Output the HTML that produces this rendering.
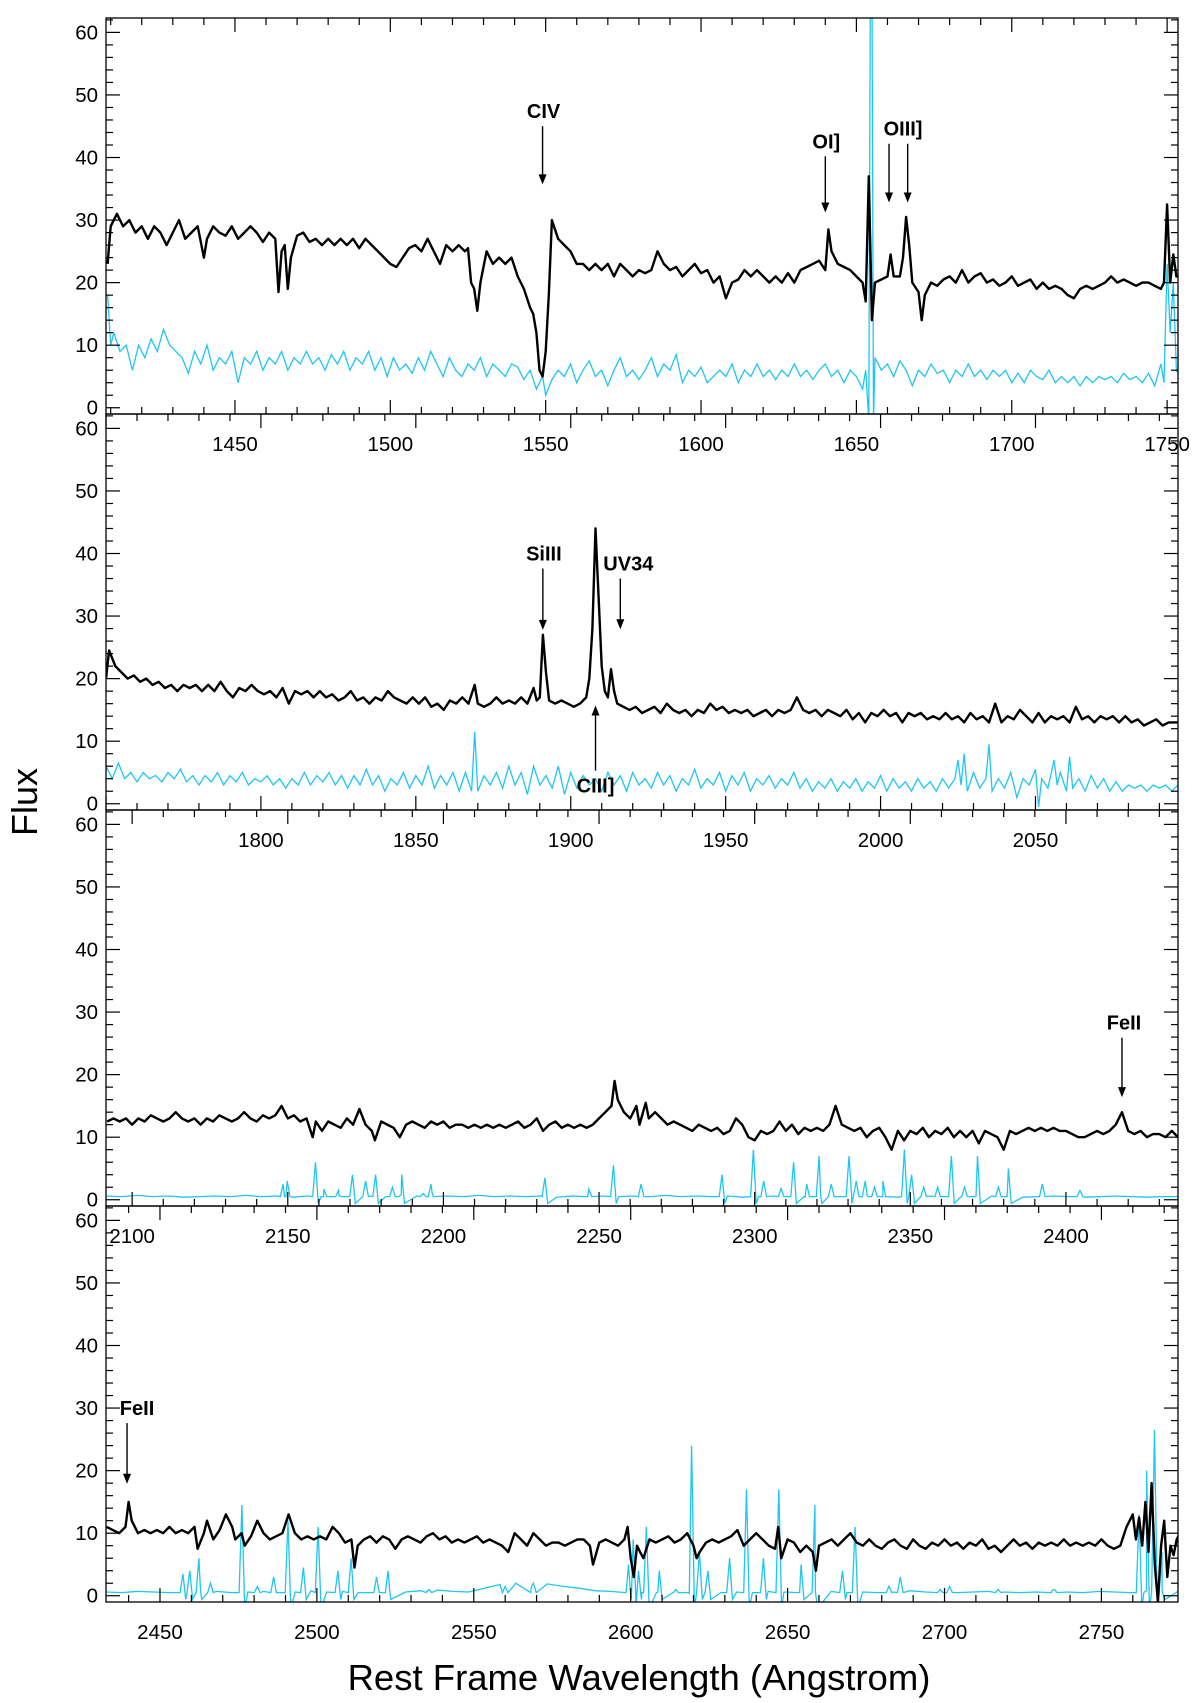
<!DOCTYPE html>
<html><head><meta charset="utf-8"><style>
html,body{margin:0;padding:0;background:#fff;}
svg{display:block;font-family:"Liberation Sans",sans-serif;}
</style></head><body>
<svg id="chart" width="1200" height="1703" viewBox="0 0 1200 1703" xmlns="http://www.w3.org/2000/svg">
<text x="0" y="0" transform="translate(37,802) rotate(-90)" text-anchor="middle" font-size="36">Flux</text>
<text x="639" y="1690" text-anchor="middle" font-size="36.5">Rest Frame Wavelength (Angstrom)</text>
</svg>
<script>
// ---------- data ----------
const panelRanges = [[1408.5,1753.5],[1750,2096],[2091.6,2436],[2432.8,2774.4]];
const yTicks = [0,10,20,30,40,50,60];
const xTicks1 = [1450,1500,1550,1600,1650,1700,1750];
const xTicks2 = [1800,1850,1900,1950,2000,2050];
const xTicks3 = [2100,2150,2200,2250,2300,2350,2400];
const xTicks4 = [2450,2500,2550,2600,2650,2700,2750];

const black1 = [1409,23,1410,29,1412,31,1414,29,1416,30,1418,28,1420,29,1422,27,1424,29,1426,28,1428,26,1430,28,1432,30,1434,27,1436,28,1438,29,1440,24,1441,27,1443,29,1445,28,1447,27.5,1449,29,1451,27,1453,28,1455,29,1457,28,1459,26.5,1461,28,1463,27,1464,18.5,1465,25,1466,26,1467,19,1468,24,1470,27.5,1472,28,1474,26.5,1476,27,1478,26,1480,27,1482,26,1484,27,1486,26,1488,27,1490,25.5,1492,27,1494,26,1496,25,1498,24,1500,23,1502,22.5,1504,24,1506,25.5,1508,26,1510,25,1512,27,1514,25,1516,23,1518,26,1520,25,1522,26,1524,25,1525,25.5,1526,20,1527,19,1528,15.5,1529,20,1531,25,1533,23,1535,24,1537,23,1539,24,1541,21,1543,19,1545,16,1546,15,1547,12,1548,6,1549,5,1550,9,1551,18,1552,30,1554,27,1556,26,1558,25,1560,23,1562,23,1564,22,1566,23,1568,22,1570,23,1572,21,1574,23,1576,22,1578,21,1580,22,1582,21.5,1584,22,1586,25,1588,23,1590,22,1592,22.5,1594,21,1596,22,1598,23,1600,21.5,1602,22,1604,20,1606,21,1608,17.5,1610,20,1612,20.5,1614,22,1616,21,1618,22,1620,21,1622,20,1624,21,1626,20,1628,21.5,1630,20,1632,22,1634,22.5,1636,23,1638,23.5,1640,22,1641,28.5,1642,25,1644,23,1646,22.5,1648,22,1650,21,1652,20,1653,17,1654,37,1655,14,1656,20,1658,20.5,1660,21,1661,24.5,1662,21,1664,21,1665,24,1666,30.5,1667,26,1668,20,1670,18.5,1671,14,1672,18,1674,20,1676,19.5,1678,20.5,1680,21,1682,20,1684,22,1686,20,1688,21,1690,21.5,1692,20,1694,20.5,1696,19.5,1698,20,1700,21,1702,19.5,1704,20,1706,20.5,1708,19,1710,20,1712,19,1714,19.5,1716,19,1718,18,1720,17.5,1722,19,1724,19.5,1726,19,1728,19.5,1730,20,1732,21,1734,20,1736,20.5,1738,20,1740,19.5,1742,20,1744,20,1746,19.5,1748,19,1749,20,1750,32.5,1751,20,1752,24.5,1753,21,1754,21];

const cyan1 = [1409,18,1410,10,1411,12,1413,9,1415,10,1417,6,1419,10,1421,8,1423,11,1425,9,1427,12.5,1429,10,1431,9,1433,8,1435,5.5,1437,9,1439,7,1441,10,1443,6,1445,8,1447,7,1449,9,1451,4,1453,8,1455,7,1457,9,1459,6,1461,8,1463,7,1465,9,1467,6,1469,8,1471,7,1473,9,1475,7,1477,8,1479,6,1481,8.5,1483,7,1485,9,1487,6,1489,8,1491,7,1493,9,1495,6,1497,8,1499,5,1501,8,1503,6,1505,7,1507,5.5,1509,8,1511,6,1513,9,1515,7,1517,5,1519,8,1521,6,1523,5,1525,7,1527,6,1529,8,1531,5,1533,7,1535,6,1537,5,1539,7,1541,6.5,1543,4.5,1545,6,1547,3,1549,5,1550,2,1552,4.5,1554,6,1556,5,1558,7,1560,4,1562,6,1564,7.5,1566,5,1568,6,1570,3.5,1572,6,1574,8,1576,5,1578,6,1580,4.5,1582,6,1584,8,1586,5,1588,7,1590,6,1592,8.5,1594,4,1596,6,1598,5,1600,6.5,1602,4,1604,5,1606,6,1608,5,1610,7,1612,4,1614,6,1616,5,1618,7,1620,5,1622,6,1624,4.5,1626,6,1628,5,1630,7,1632,5,1634,6,1636,4.5,1638,6,1640,7,1642,5,1644,6,1646,4,1648,6,1650,5,1652,3,1653,6,1654,-2,1654.5,70,1655,70,1655.5,-2,1656,8,1658,6,1660,7,1662,5,1664,7.5,1666,6,1668,3.5,1670,6,1672,5,1674,7,1676,5.5,1678,6,1680,4,1682,6,1684,5,1686,7,1688,5,1690,6,1692,4.5,1694,6,1696,5,1698,6,1700,4,1702,5.5,1704,4,1706,6,1708,5,1710,4.5,1712,6,1714,4,1716,5,1718,4,1720,5,1722,3.5,1724,5,1726,4,1728,5,1730,4.5,1732,5,1734,4,1736,5.5,1738,4.5,1740,5,1742,4,1744,5.5,1746,3.5,1748,7,1749,4,1750,23,1751,12,1752,20,1753,6,1754,5];

const black2 = [1750,20,1751,24.5,1753,22,1755,21,1757,20,1759,20.5,1761,19.5,1763,20,1765,19,1767,19.5,1769,18.5,1771,19,1773,18,1775,19,1777,18.5,1779,19,1781,18,1783,19,1785,18,1787,19.5,1789,18,1791,17,1793,18.5,1795,18,1797,19,1799,18,1801,17.5,1803,18,1805,17,1807,18.5,1809,16,1811,18,1813,17.5,1815,18,1817,17,1819,18,1821,17,1823,17.5,1825,16.5,1827,17,1829,18,1831,16.5,1833,17,1835,16,1837,17,1839,16.5,1841,18,1843,17,1845,16.5,1847,16,1849,17,1851,16,1853,17,1855,15.5,1857,16,1859,15,1861,16.5,1863,16,1865,17,1867,16,1869,19,1870,16,1872,15.5,1874,16,1876,17,1878,16,1880,16.5,1882,16,1884,17,1886,16,1888,18.5,1889,16.5,1890,17,1891,27,1892,21,1893,16.5,1895,16,1897,16.5,1899,16,1901,15.5,1903,16,1905,17,1906,20,1907,28,1908,44,1909,33,1910,22,1911,18,1912,17,1913,21.5,1914,18,1915,16,1917,15.5,1919,15,1921,15.5,1923,14.5,1925,15,1927,15.5,1929,14.5,1931,16,1933,15,1935,14.5,1937,15,1939,14,1941,15,1943,14.5,1945,16,1947,15,1949,15.5,1951,14.5,1953,15,1955,14.5,1957,15,1959,14,1961,14.5,1963,15,1965,14,1967,15,1969,14.5,1971,15,1973,17,1975,15,1977,14.5,1979,15,1981,14,1983,15,1985,14.5,1987,14,1989,15,1991,13.5,1993,14.5,1995,13,1997,14.5,1999,14,2001,15,2003,14,2005,14.5,2007,13,2009,14.5,2011,14,2013,14.5,2015,13.5,2017,14,2019,13.5,2021,14.5,2023,13.5,2025,14,2027,13,2029,14.5,2031,13.5,2033,14,2035,13,2037,16,2039,13,2041,14,2043,13.5,2045,15,2047,14,2049,13,2051,14.5,2053,13,2055,14,2057,13.5,2059,14,2061,13,2063,15.5,2065,13.5,2067,14,2069,13,2071,14,2073,13.5,2075,14,2077,13,2079,14,2081,13,2083,13.5,2085,12.5,2087,13,2089,13.5,2091,12.5,2093,13,2096,13];

const cyan2 = [1750,6,1752,4,1754,6.5,1756,4,1758,5,1760,3.5,1762,5,1764,4,1766,4.5,1768,3.5,1770,5,1772,4,1774,5.5,1776,3.5,1778,4.5,1780,3,1782,4.5,1784,3.5,1786,5,1788,3,1790,4.5,1792,3.5,1794,5,1796,3,1798,4,1800,3.5,1802,4.5,1804,3,1806,4,1808,2.5,1810,4,1812,3,1814,5,1816,3,1818,4.5,1820,3.5,1822,5,1824,3,1826,4.5,1828,2.5,1830,4.5,1832,3,1834,5.5,1836,3,1838,4.5,1840,2,1842,4,1844,3,1846,5,1848,2.5,1850,4.5,1852,3,1854,6,1856,2.5,1858,4.5,1860,3,1862,5,1864,2,1866,5,1868,2,1869,11.5,1870,2,1872,4.5,1874,3,1876,5,1878,2.5,1880,6,1882,3,1884,5,1886,1.5,1888,6,1890,3,1892,4.5,1894,2.5,1896,6,1898,1.5,1900,5,1902,2.5,1904,4.5,1906,3,1908,4,1910,2,1912,5,1914,3,1916,4.5,1918,2,1920,5,1922,3,1924,4,1926,2.5,1928,5,1930,3,1932,4.5,1934,2,1936,4,1938,3,1940,5.5,1942,2.5,1944,4,1946,3,1948,5,1950,2,1952,4.5,1954,3,1956,5,1958,2,1960,4,1962,3,1964,4.5,1966,2.5,1968,4,1970,3,1972,5,1974,2.5,1976,4,1978,2,1980,3.5,1982,2.5,1984,4,1986,2,1988,3.5,1990,2.5,1992,4,1994,2,1996,3.5,1998,2.5,2000,4.5,2002,2,2004,4,2006,2.5,2008,3.5,2010,2,2012,4,2014,2.5,2016,3.5,2018,2,2020,4,2022,2.5,2024,4,2025,7,2026,3,2027,8,2028,2,2030,5,2032,2.5,2034,4,2035,9.5,2036,2,2038,4,2040,2.5,2042,5,2044,1,2046,4,2048,3,2050,5.5,2051,-0.5,2052,4,2054,2.5,2056,7,2057,3,2058,5,2060,2,2061,7.5,2062,2.5,2064,4,2066,2,2068,4.5,2070,2.5,2072,4,2074,2,2076,3.5,2078,2,2080,3,2082,2.5,2084,3,2086,2,2088,3,2090,2.5,2092,3,2094,2,2096,3];

const black3 = [2092,12.5,2094,13,2096,12.5,2098,13,2100,12,2102,13,2104,12.5,2106,13.5,2108,13,2110,12.5,2112,13,2114,14,2116,13,2118,12.5,2120,13,2122,12,2124,13,2126,12.5,2128,13.5,2130,13,2132,12.5,2134,13,2136,14,2138,13,2140,12.5,2142,13.5,2144,13,2146,13.5,2148,15,2150,13,2152,13.5,2154,12.5,2156,13,2158,10,2159,12.5,2161,11,2163,12.5,2165,12,2167,11.5,2169,13,2171,12,2173,14.5,2175,12,2177,11,2178,9.5,2180,12.5,2182,12,2184,11.5,2186,10,2188,12,2190,12.5,2192,12,2194,11.5,2196,12.5,2198,12,2200,12.5,2202,11.5,2204,12,2206,12,2208,11.5,2210,12,2212,11.5,2214,12,2216,11.5,2218,12,2220,11.5,2222,12,2224,12.5,2226,11.5,2228,12,2230,13,2232,11,2234,12,2236,12.5,2238,11.5,2240,12,2242,11.5,2244,12,2246,11.5,2248,12,2250,13,2252,14,2254,15,2255,19,2256,16,2258,14,2260,13,2262,15,2263,12,2265,15.5,2266,13,2268,14,2270,13,2272,12,2274,12.5,2276,12,2278,11.5,2280,11,2282,12,2284,11.5,2286,11,2288,11.5,2290,10.5,2292,11,2294,13,2296,12,2298,10,2300,9.5,2302,11,2304,10.5,2306,11,2308,12.5,2310,11,2312,12,2314,10.5,2316,11.5,2318,11,2320,11.5,2322,11,2324,12,2326,15,2328,12,2330,11.5,2332,11,2334,11.5,2336,10,2338,11,2340,11.5,2342,10,2344,8,2346,11,2348,9.5,2350,11,2352,10.5,2354,11.5,2356,10,2358,11,2360,10.5,2362,11.5,2364,10,2366,11,2368,10,2370,11,2372,9,2374,11,2376,10.5,2378,10,2380,8,2382,11,2384,10.5,2386,11,2388,11.5,2390,11,2392,11.5,2394,11,2396,11.5,2398,11,2400,11,2402,10.5,2404,10,2406,10,2408,10.5,2410,11,2412,10.5,2414,11,2416,12,2418,14,2420,11,2422,10.5,2424,11,2426,10,2428,10.5,2430,10.5,2432,10,2434,11,2436,10];

const cyanBase3 = [0.6,0.5,0.7,0.5,0.6,0.4,0.5,0.6,0.5,0.7,0.5,0.6,0.4,0.6,0.5,0.7,0.5,0.6,0.5,0.8,0.6,0.9,0.6,0.5,0.7,0.5,0.6,0.5,0.6,0.4,0.6,0.5,0.6,0.5,0.6,0.5,0.7,0.5,0.6,0.5,0.6,0.4,0.5,0.6,0.5,0.4,0.6,0.5,0.5,0.6,0.5,0.4,0.5,0.6,0.5,0.4,0.5,0.6,0.5,0.4,0.5,0.6,0.5,0.4,0.5,0.6,0.5,0.4,0.5,0.5];
const cyanLineW3 = [2148.5,2149.8,2158.9,2161.6,2166.3,2170.8,2175,2178.2,2183.6,2186.6,2193.5,2196,2232.6,2246.7,2254.6,2263.5,2289.5,2299.6,2302.9,2308.5,2312.5,2316.7,2320.7,2324.6,2330.3,2332.6,2335.5,2338.5,2341.2,2348.1,2350.4,2354.3,2358.8,2363.2,2367.4,2371.6,2378.3,2381.5,2392.4,2404.5];
const cyanLineH3 = [2.5,3,6,1.7,1.5,4,3,4,2,4,1,2.5,3.5,1.7,5.5,2.5,4,8,3,1.8,6,2.5,7,2.5,7,3,3,2,3,8,4,2,2,7,2,7,2,5,2.5,1.5];

const black4 = [2433,11,2435,10.5,2437,10,2439,11,2440,15,2441,12,2443,10,2445,10.5,2447,10,2449,10.5,2451,10,2453,11,2455,10,2457,10.5,2459,10,2461,11,2462,7.5,2464,10,2465,12,2467,9,2469,10.5,2471,13,2473,11,2474,9,2476,10,2477,8,2479,9.5,2481,12,2483,10,2485,9,2487,9.5,2489,10,2491,13,2493,10,2495,9,2497,9.5,2499,9,2501,9.5,2503,9,2505,11,2507,10,2509,8.5,2511,9,2512,4.5,2513,8,2515,9,2517,9.5,2519,8.5,2521,9.5,2523,9,2525,7.5,2527,9,2529,9.5,2531,9,2533,8.5,2535,9.5,2537,10,2539,9,2541,9.5,2543,8.5,2545,9,2547,8.5,2549,9,2551,9.5,2553,8.5,2555,9,2557,8.5,2559,8,2561,7,2563,10,2565,9,2567,8,2569,10,2571,9,2573,8,2575,8.5,2577,8.5,2579,8,2581,8.5,2583,9,2585,9,2587,8,2588,5,2590,8.5,2592,9,2594,8.5,2596,8,2598,9,2599,11,2600,6,2601,3,2602,8,2603,7,2604,6,2606,9,2608,8.5,2610,9,2612,9.5,2614,8.5,2616,9,2618,10,2620,8,2621,6,2622,7,2624,8.5,2626,9,2628,8.5,2630,9,2632,9.5,2634,10.5,2636,8,2638,9,2640,10,2642,9,2644,8,2646,7.5,2647,11,2648,6,2650,9,2652,8.5,2654,7,2656,8,2658,7,2659,4,2660,8,2662,8.5,2664,9,2666,8,2668,9,2670,10,2672,8.5,2674,8,2676,9,2678,8,2680,7.5,2682,8.5,2684,9,2686,8,2688,7.5,2690,9,2692,8,2694,7.5,2696,8.5,2698,8,2700,9,2702,8,2704,8.5,2706,7.5,2708,8.5,2710,8,2712,9,2714,7.5,2716,8,2718,7,2720,8,2722,9,2724,8,2726,8.5,2728,7.5,2730,8.5,2732,8,2734,8.5,2736,8,2738,9,2740,8,2742,8.5,2744,8,2746,8.5,2748,8,2750,9,2752,8,2754,7.5,2756,8,2758,11,2760,13,2761,9,2762,12.5,2763,8,2764,15,2765,7,2766,18,2767,5,2768,-1,2769,8,2770,12,2771,3,2772,8,2773,6.5,2774,9,2775,10];

const cyanBase4 = [0.6,0.5,0.7,0.6,0.5,0.8,0.6,0.7,0.5,0.6,0.7,0.5,0.6,0.8,0.6,0.7,0.5,0.6,0.7,0.6,0.8,0.9,0.7,0.6,1.2,1.8,2,1.6,1.9,1.5,1.2,0.8,0.7,0.6,0.5,0.6,0.5,0.4,0.6,0.5,0.6,0.5,0.7,0.6,0.5,0.6,0.7,0.5,0.6,0.5,0.6,0.8,0.6,0.7,0.5,0.6,0.7,0.6,0.5,0.6,0.8,0.6,0.5,0.7,0.6,0.5,0.8,0.6,0.7];
const cyanLineW4 = [2457.3,2459.5,2462.4,2466.1,2476.1,2481,2486.2,2490.8,2495.7,2500.4,2506.7,2510.9,2519,2522.7,2535.7,2560,2569,2599.3,2600.8,2602.5,2605,2609.1,2614.3,2619.4,2621.9,2624.6,2631.5,2636.9,2642.3,2647.2,2654.3,2658.7,2667.5,2671.5,2682.3,2685.9,2698.7,2701.6,2717.1,2735,2762,2764.4,2766.9,2769.3];
const cyanLineH4 = [3.5,4,6,2,14.5,1.5,3,12,4.5,11,4,6,3,4,1,1.5,2,5,9,4,11,4,1,24,7,4,6,17,6,17,5,14.5,4,11,1.5,3,1,1.5,1,1,13,20,26.5,7];

// ---------- layout ----------
const L = 106, R = 1178, TOP0 = 18, PH = 396, YMIN = -1, YMAX = 62.3;
const svg = document.getElementById('chart');
const NS = 'http://www.w3.org/2000/svg';
function mk(tag, attrs, parent) {
  const e = document.createElementNS(NS, tag);
  for (const k in attrs) e.setAttribute(k, attrs[k]);
  (parent || svg).appendChild(e);
  return e;
}
function xScale(p, w) { const r = panelRanges[p]; return L + (w - r[0]) / (r[1] - r[0]) * (R - L); }
function yScale(p, v) { const t = TOP0 + p * PH; return t + PH - (v - YMIN) / (YMAX - YMIN) * PH; }

function pairsPath(p, arr) {
  let d = '';
  for (let i = 0; i < arr.length; i += 2) d += (i ? 'L' : 'M') + xScale(p, arr[i]).toFixed(1) + ' ' + yScale(p, arr[i + 1]).toFixed(1);
  return d;
}
function basePlusLines(p, base, lw, lh) {
  const r = panelRanges[p];
  const step = (r[1] - r[0]) / (base.length - 1);
  const pts = [];
  for (let i = 0; i < base.length; i++) pts.push([r[0] + i * step, base[i]]);
  for (let j = 0; j < lw.length; j++) {
    const b = 0.5;
    pts.push([lw[j] - 0.9, b]);
    pts.push([lw[j], lh[j]]);
    pts.push([lw[j] + 0.9, lh[j] > 8 ? -2 : (lh[j] > 3 ? -0.6 : b)]);
  }
  pts.sort((a, c) => a[0] - c[0]);
  const out = [];
  pts.forEach(q => { out.push(q[0], q[1]); });
  return out;
}

const xTickSets = [xTicks1, xTicks2, xTicks3, xTicks4];
const blacks = [black1, black2, black3, black4];
const cyans = [cyan1, cyan2, basePlusLines(2, cyanBase3, cyanLineW3, cyanLineH3), basePlusLines(3, cyanBase4, cyanLineW4, cyanLineH4)];

for (let p = 0; p < 4; p++) {
  const top = TOP0 + p * PH, bot = top + PH;
  const g = mk('g', {});
  
  
  const cp = mk('clipPath', { id: 'clip' + p });
  mk('rect', { x: L, y: top, width: R - L, height: PH }, cp);
  const cy = mk('path', { d: pairsPath(p, cyans[p]), fill: 'none', stroke: '#1ec6f2', 'stroke-width': 1.3, 'clip-path': 'url(#clip' + p + ')' }, g);
  
  
  const bk = mk('path', { d: pairsPath(p, blacks[p]), fill: 'none', stroke: '#000', 'stroke-width': 2.4, 'stroke-linejoin': 'round', 'clip-path': 'url(#clip' + p + ')' }, g);
  
  
  const fr = mk('rect', { x: L, y: top, width: R - L, height: PH, fill: 'none', stroke: '#000', 'stroke-width': 1.3 }, g);
  
  
  for (let v = 0; v <= 62; v += 2) {
    const y = yScale(p, v), len = v % 10 === 0 ? 14 : 7;
    mk('line', { x1: L, x2: L + len, y1: y, y2: y, stroke: '#000', 'stroke-width': 1.2 }, g);
    mk('line', { x1: R, x2: R - len, y1: y, y2: y, stroke: '#000', 'stroke-width': 1.2 }, g);
  }
  yTicks.forEach(v => {
    const t = mk('text', { x: L - 8, y: yScale(p, v) + 7, 'text-anchor': 'end', 'font-size': 20.5 }, g);
    
    
    t.textContent = v;
  });
  const r = panelRanges[p];
  for (let w = Math.ceil(r[0] / 10) * 10; w <= r[1]; w += 10) {
    const x = xScale(p, w), len = w % 50 === 0 ? 14 : 7;
    mk('line', { x1: x, x2: x, y1: bot, y2: bot - len, stroke: '#000', 'stroke-width': 1.2 }, g);
    mk('line', { x1: x, x2: x, y1: top, y2: top + len, stroke: '#000', 'stroke-width': 1.2 }, g);
  }
  xTickSets[p].forEach(w => {
    const t = mk('text', { x: xScale(p, w), y: bot + 37, 'text-anchor': 'middle', 'font-size': 20.5 }, g);
    
    
    t.textContent = w;
  });
}

// ---------- line annotations ----------
const annPanel = [0, 0, 0, 0, 1, 1, 1, 2, 3];
const annWave = [1549, 1640, 1660.5, 1666.5, 1891, 1916, 1908, 2418, 2439.5];
const annFrom = [45, 40.2, 42.2, 42.2, 37.6, 36, 5.3, 25.9, 27.6];
const annTo = [35.7, 31.2, 32.8, 32.8, 27.8, 27.9, 15.7, 16.4, 17.9];
const annLabel = ['CIV', 'OI]', 'OIII]', '', 'SiIII', 'UV34', 'CIII]', 'FeII', 'FeII'];
const annLabelDx = [1, 1, 14, 0, 1, 8, 0, 2, 10];
for (let i = 0; i < annWave.length; i++) {
  const p = annPanel[i], x = xScale(p, annWave[i]);
  const y1 = yScale(p, annFrom[i]), y2 = yScale(p, annTo[i]);
  const dir = y2 > y1 ? 1 : -1;
  const a = mk('g', {});
  
  
  mk('line', { x1: x, x2: x, y1: y1, y2: y2 - dir * 8, stroke: '#000', 'stroke-width': 1.4 }, a);
  mk('path', { d: `M${x - 4} ${y2 - dir * 10}L${x} ${y2}L${x + 4} ${y2 - dir * 10}Z`, fill: '#000' }, a);
  if (annLabel[i]) {
    const ty = dir > 0 ? y1 - 8 : y1 + 22;
    const t = mk('text', { x: x + annLabelDx[i], y: ty, 'text-anchor': 'middle', 'font-size': 20, 'font-weight': 'bold' });
    
    
    t.textContent = annLabel[i];
  }
}
</script>
</body></html>
